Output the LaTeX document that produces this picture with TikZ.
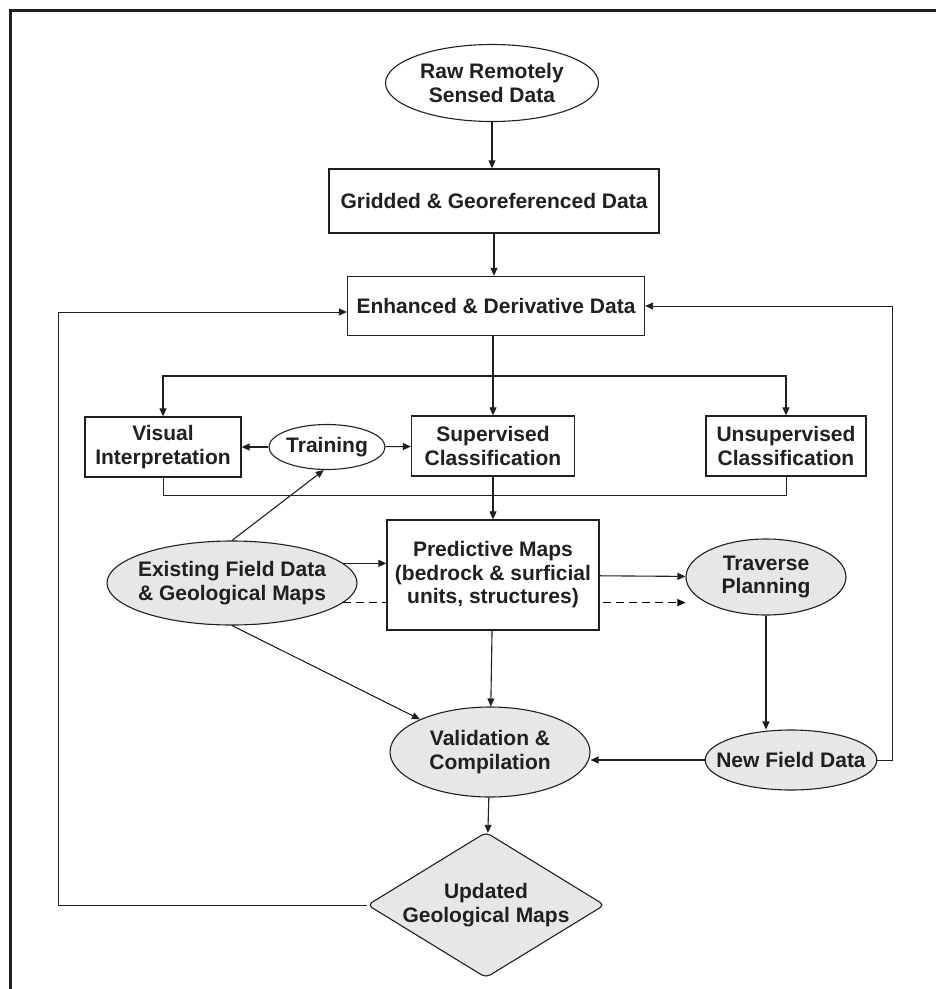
\documentclass[tikz,border=0pt]{standalone}
\usepackage{fontspec}
\setmainfont{Liberation Sans}
\usepackage{tikz}
\usetikzlibrary{arrows.meta,positioning,shapes.geometric,calc,backgrounds}
\definecolor{inkdark}{RGB}{35,31,32}
\definecolor{fieldgrey}{RGB}{230,231,232}

\begin{document}
\begin{tikzpicture}[
        x=1pt, y=-1pt,
        color=inkdark,
        font=\fontsize{21}{23.5}\selectfont\bfseries,
        >={Triangle[length=8pt,width=7pt]},
        procbox/.style={rectangle,draw,line width=1.3pt,fill=white,align=center,inner sep=0pt},
        oval/.style={ellipse,draw,line width=1.1pt,fill=white,align=center,inner sep=0pt},
        fieldoval/.style={oval,fill=fieldgrey},
        decision/.style={diamond,draw,line width=1.1pt,fill=fieldgrey,rounded corners=5pt,align=center,inner sep=0pt,aspect=1.63},
        arrow/.style={->,line width=1.1pt},
        loopline/.style={->,line width=0.9pt}
    ]
        \useasboundingbox (0,0) rectangle (936,989);
        \draw[line width=3pt] (10,989) -- (10,10) -- (936,10);

        % main column
        \node[oval,minimum width=213pt,minimum height=77pt] (raw) at (492,83) {Raw Remotely\\Sensed Data};
        \node[procbox,minimum width=330pt,minimum height=64pt] (gridded) at (494,201) {Gridded \& Georeferenced Data};
        \node[procbox,minimum width=297pt,minimum height=59pt] (enhanced) at (496,306) {Enhanced \& Derivative Data};

        % classification row
        \node[procbox,minimum width=156pt,minimum height=60pt] (visual) at (163,447) {Visual\\Interpretation};
        \node[oval,minimum width=116pt,minimum height=45pt] (training) at (327,447) {Training};
        \node[procbox,minimum width=163pt,minimum height=60pt] (supervised) at (493,446) {Supervised\\Classification};
        \node[procbox,minimum width=160pt,minimum height=60pt] (unsupervised) at (786,446) {Unsupervised\\Classification};

        % field work
        \node[procbox,minimum width=212pt,minimum height=110pt] (predictive) at (493,575) {Predictive Maps\\(bedrock \& surficial\\units, structures)};
        \node[fieldoval,inner xsep=-8pt,minimum width=250pt,minimum height=84pt] (existing) at (232,583) {Existing Field Data\\\& Geological Maps};
        \node[fieldoval,minimum width=160pt,minimum height=76pt] (traverse) at (766,577) {Traverse\\Planning};
        \node[fieldoval,minimum width=200pt,minimum height=90pt] (validation) at (490,752) {Validation \&\\Compilation};
        \node[fieldoval,inner xsep=-14pt,minimum width=160pt,minimum height=60pt] (newfield) at (791,760) {New Field Data};
        \node[decision] (updated) at (486,905) {Updated\\Geological Maps};

        \coordinate (split) at (493,376);
        \coordinate (merge) at (493,495);
        \coordinate (lturn) at (58,312);
        \coordinate (rturn) at (892,306);

        \draw[arrow] (raw) -- (raw |- gridded.north);
        \draw[arrow] (gridded) -- (gridded |- enhanced.north);
        \draw[arrow] (enhanced.south -| supervised) -- (supervised);
        \draw[arrow] (split) -| (visual.north);
        \draw[arrow] (split) -| (unsupervised.north);
        \draw[arrow] (training) -- (visual);
        \draw[arrow] (training) -- (supervised);
        \draw (visual.south) |- (merge);
        \draw (unsupervised.south) |- (merge);
        \draw[arrow] (supervised) -- (predictive);

        \draw[arrow] (existing.north) -- (training.262);
        \draw[arrow] (existing.10) -- (existing.10 -| predictive.west);
        \draw[arrow] (predictive) -- (traverse);
        \begin{scope}[on background layer]
            \draw[arrow,dash pattern=on 8pt off 5pt] (existing.-10) -- (existing.-10 -| traverse.west);
        \end{scope}
        \draw[arrow] (existing.south) -- (validation.155);
        \draw[arrow] (predictive) -- (validation);
        \draw[arrow] (traverse) -- (traverse |- newfield.north);
        \draw[arrow] (newfield) -- (newfield -| validation.east);
        \draw[arrow] (validation) -- (updated);

        % feedback loops
        \draw[loopline] (newfield.east) -| (rturn) -- (enhanced.east |- rturn);
        \draw[loopline] (updated.west) -| (lturn) -- (enhanced.west |- lturn);
    \end{tikzpicture}
\end{document}
